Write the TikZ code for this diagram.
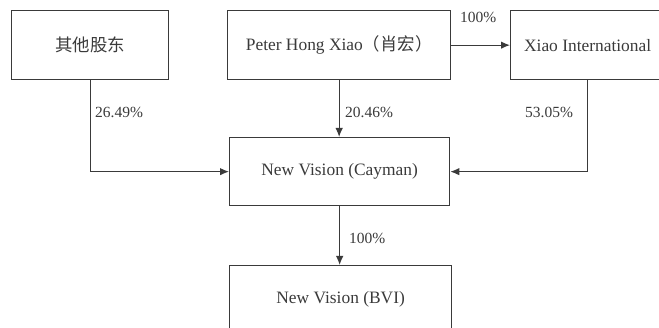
\documentclass[tikz,border=0pt]{standalone}
\usepackage{fontspec}
\setmainfont{Liberation Serif}
\newfontfamily\cjk{Noto Sans CJK SC}
\usetikzlibrary{arrows.meta}
\definecolor{inkgray}{HTML}{3A3A3A}
\tikzstyle{holder} = [rectangle,
anchor=north west,
inner sep=0pt,
text centered,
draw=inkgray,
text=inkgray,
line width=1.3pt,
font=\fontsize{17.4}{20}\selectfont]
\tikzstyle{share} = [anchor=west,
inner sep=0pt,
text=inkgray,
font=\fontsize{15.5}{18}\selectfont]
\tikzstyle{arrow} = [draw=inkgray, line width=1.2pt, -{Latex[length=9pt,width=7.5pt]}]

\begin{document}
\begin{tikzpicture}[x=1pt, y=-1pt]
  \clip (0,0) rectangle (659,328);
  \node (others) [holder, minimum width=157pt, minimum height=69pt] at (11,10) {\cjk 其他股东};
  \node (peter) [holder, minimum width=223pt, minimum height=69pt] at (227,10) {Peter Hong Xiao{\cjk （肖宏）}};
  \node (xiao) [holder, minimum width=154pt, minimum height=69pt] at (510,10) {Xiao International};
  \node (cayman) [holder, minimum width=220pt, minimum height=68pt] at (229,137) {New Vision (Cayman)};
  \node (bvi) [holder, minimum width=222pt, minimum height=68pt] at (229,265) {New Vision (BVI)};

  % shareholding percentages
  \node (pctothers) [share] at (95,112) {26.49\%};
  \node (pctpeter) [share] at (345,112) {20.46\%};
  \node (pctxiao) [share] at (525,112) {53.05\%};
  \node (pctwhole) [share] at (460,17) {100\%};
  \node (pctbvi) [share] at (349,238) {100\%};

  \draw [arrow] (others.south) |- (cayman.west);
  \draw [arrow] (peter.south) -- (peter.south |- cayman.north);
  \draw [arrow] (peter.east) -- (xiao.west);
  \draw [arrow] (xiao.south) |- (cayman.east);
  \draw [arrow] (cayman.south) -- (cayman.south |- bvi.north);
\end{tikzpicture}
\end{document}
